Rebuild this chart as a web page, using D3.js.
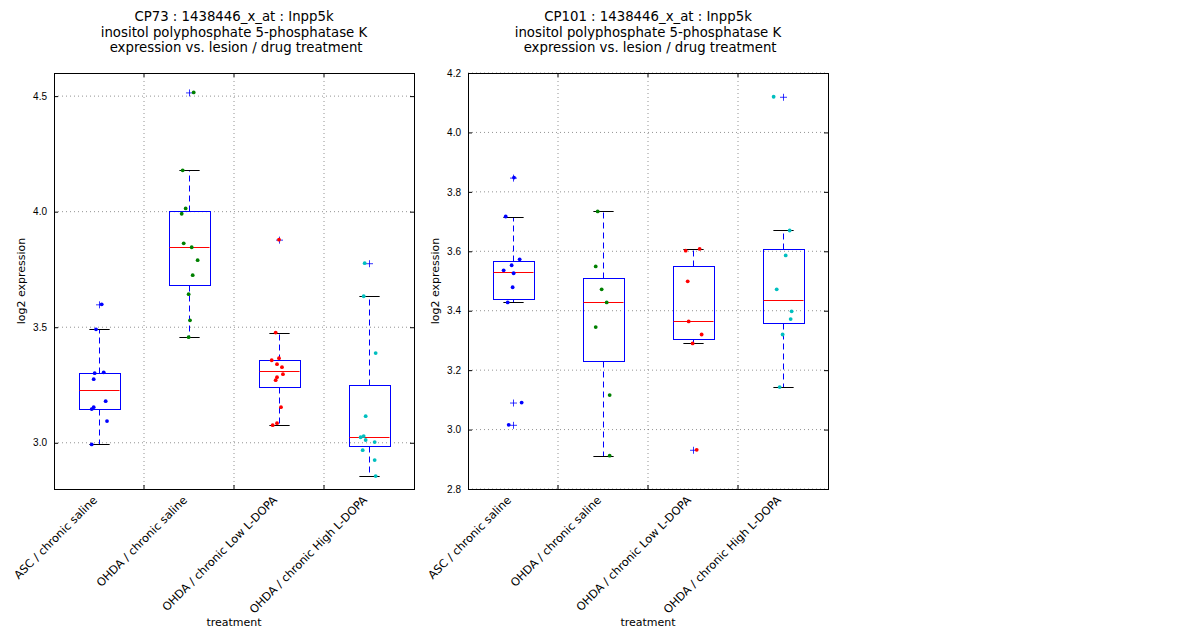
<!DOCTYPE html>
<html lang="en">
<head>
  <meta charset="UTF-8">
  <title>Inpp5k expression vs. lesion / drug treatment</title>
  <script src="https://d3js.org/d3.v7.min.js"></script>
  <style>
    body {
      margin: 0;
      background: #ffffff;
      font-family: 'DejaVu Sans', sans-serif;
    }
    svg {
      display: block;
    }
    .grid line {
      stroke: #777;
      stroke-width: 0.8;
      stroke-dasharray: 1,3;
    }
  </style>
</head>
<body>
  <svg id="chart" width="1200" height="640"></svg>

  <script>
    // treatment groups, shared by both panels
    const categories = [
      "ASC / chronic saline",
      "OHDA / chronic saline",
      "OHDA / chronic Low L-DOPA",
      "OHDA / chronic High L-DOPA"
    ];

    // CP73 log2 expression, one list per group
    const cp73Values = [
      [3.599, 3.491, 3.301, 3.305, 3.275, 3.180, 3.154, 3.146, 3.094, 2.993],
      [4.516, 4.179, 4.014, 3.991, 3.863, 3.846, 3.790, 3.725, 3.643, 3.530, 3.457],
      [3.879, 3.477, 3.366, 3.357, 3.340, 3.327, 3.297, 3.284, 3.271, 3.154, 3.085, 3.076],
      [3.777, 3.634, 3.388, 3.115, 3.024, 3.029, 3.012, 3.003, 2.968, 2.925, 2.856]
    ];
    // horizontal jitter of each point, in category units
    const cp73Jitter = [
      [0.030, -0.033, -0.048, 0.052, -0.059, 0.074, -0.059, -0.081, 0.089, -0.081],
      [0.052, -0.070, -0.037, -0.081, -0.059, 0.030, 0.096, 0.041, -0.004, 0.011, -0.004],
      [0.000, -0.037, 0.000, -0.081, -0.022, 0.033, 0.044, -0.022, -0.037, 0.022, -0.022, -0.070],
      [-0.048, -0.059, 0.074, -0.037, -0.093, -0.059, -0.037, 0.063, -0.070, 0.063, 0.074]
    ];

    // CP101 log2 expression
    const cp101Values = [
      [3.848, 3.717, 3.573, 3.553, 3.536, 3.526, 3.479, 3.428, 3.091, 3.016],
      [3.734, 3.549, 3.472, 3.428, 3.345, 3.116, 2.912],
      [3.602, 3.608, 3.499, 3.364, 3.320, 3.290, 2.932],
      [4.120, 3.670, 3.586, 3.472, 3.398, 3.372, 3.320, 3.143]
    ];
    const cp101Jitter = [
      [0.011, -0.081, 0.074, -0.015, -0.104, 0.007, -0.004, -0.059, 0.096, -0.048],
      [-0.059, -0.081, -0.015, 0.041, -0.081, 0.074, 0.074],
      [-0.081, 0.074, -0.059, -0.048, 0.096, -0.004, 0.041],
      [-0.104, 0.074, 0.030, -0.070, 0.096, 0.085, -0.004, -0.037]
    ];

    const cp73Domain = [2.8, 4.6];
    const cp73Ticks = [3.0, 3.5, 4.0, 4.5];
    const cp101Domain = [2.8, 4.2];
    const cp101Ticks = [2.8, 3.0, 3.2, 3.4, 3.6, 3.8, 4.0, 4.2];

    const cp73Title = ["CP73 : 1438446_x_at : Inpp5k",
                       "inositol polyphosphate 5-phosphatase K",
                       " expression vs. lesion / drug treatment"];
    const cp101Title = ["CP101 : 1438446_x_at : Inpp5k",
                        "inositol polyphosphate 5-phosphatase K",
                        " expression vs. lesion / drug treatment"];

    const groupColors = ["#0000ff", "#008000", "#ff0000", "#00bfbf"];

    const svg = d3.select("#chart");

    function boxStats(values) {
      const v = values.slice().sort(d3.ascending);
      const q1 = d3.quantile(v, 0.25);
      const med = d3.quantile(v, 0.5);
      const q3 = d3.quantile(v, 0.75);
      const iqr = q3 - q1;
      const lo = d3.min(v.filter(d => d >= q1 - 1.5 * iqr));
      const hi = d3.max(v.filter(d => d <= q3 + 1.5 * iqr));
      const fliers = v.filter(d => d < lo || d > hi);
      return { q1, med, q3, lo, hi, fliers };
    }

    function drawPanel(left, title, values, jitter, domain, ticks) {
      const top = 73, bottom = 489, width = 360;
      const x = d3.scaleBand().domain(categories).range([left, left + width]);
      const y = d3.scaleLinear().domain(domain).range([bottom, top]);
      const bw = x.bandwidth();
      const unit = bw; // one category = one data unit

      const g = svg.append("g");

      // title
      g.append("text")
        .attr("text-anchor", "middle")
        .style("font-size", "13.3px")
        .selectAll("tspan")
        .data(title)
        .join("tspan")
        .attr("x", left + width / 2)
        .attr("y", (d, i) => 21 + i * 15.5)
        .attr("xml:space", "preserve")
        .text(d => d);

      // grid
      const grid = g.append("g").attr("class", "grid");
      grid.selectAll("line.h")
        .data(ticks)
        .join("line")
        .attr("class", "h")
        .attr("x1", left).attr("x2", left + width)
        .attr("y1", d => y(d)).attr("y2", d => y(d));
      grid.selectAll("line.v")
        .data(categories.slice(1))
        .join("line")
        .attr("class", "v")
        .attr("x1", d => x(d)).attr("x2", d => x(d))
        .attr("y1", top).attr("y2", bottom);

      // y axis, ticks inward on both sides
      const yAxis = g.append("g")
        .attr("transform", `translate(${left},0)`)
        .call(d3.axisLeft(y).tickValues(ticks).tickFormat(d3.format(".1f")).tickSizeInner(-4).tickSizeOuter(0).tickPadding(7));
      yAxis.select(".domain").remove();
      yAxis.selectAll("text").style("font-size", "10px").attr("fill", "#000");

      const yAxisR = g.append("g")
        .attr("transform", `translate(${left + width},0)`)
        .call(d3.axisRight(y).tickValues(ticks).tickSizeInner(-4).tickSizeOuter(0));
      yAxisR.select(".domain").remove();
      yAxisR.selectAll("text").remove();

      // x ticks at group boundaries, top and bottom
      const bounds = categories.slice(1).map(c => x(c));
      g.append("g").selectAll("line")
        .data(bounds)
        .join("line")
        .attr("x1", d => d).attr("x2", d => d)
        .attr("y1", bottom).attr("y2", bottom - 4)
        .attr("stroke", "#000");
      g.append("g").selectAll("line")
        .data(bounds)
        .join("line")
        .attr("x1", d => d).attr("x2", d => d)
        .attr("y1", top).attr("y2", top + 4)
        .attr("stroke", "#000");

      // category labels, rotated
      g.append("g").selectAll("text")
        .data(categories)
        .join("text")
        .attr("text-anchor", "end")
        .attr("dy", "0.35em")
        .attr("transform", d => `translate(${x(d) + bw / 2 - 4},${bottom + 9}) rotate(-45)`)
        .style("font-size", "11.3px")
        .text(d => d);

      // axis labels
      g.append("text")
        .attr("text-anchor", "middle")
        .attr("x", left + width / 2)
        .attr("y", 626)
        .style("font-size", "11px")
        .text("treatment");
      g.append("text")
        .attr("text-anchor", "middle")
        .attr("transform", `translate(${left - 29},${(top + bottom) / 2}) rotate(-90)`)
        .style("font-size", "11px")
        .text("log2 expression");

      // boxes
      const stats = values.map(boxStats);
      const boxes = g.append("g").selectAll("g")
        .data(stats)
        .join("g")
        .attr("transform", (d, i) => `translate(${x(categories[i]) + bw / 2 + 0.5},0.5)`);

      boxes.append("line")
        .attr("y1", d => Math.round(y(d.q3))).attr("y2", d => Math.round(y(d.hi)))
        .attr("stroke", "#0000ff").attr("stroke-dasharray", "6,4");
      boxes.append("line")
        .attr("y1", d => Math.round(y(d.q1))).attr("y2", d => Math.round(y(d.lo)))
        .attr("stroke", "#0000ff").attr("stroke-dasharray", "6,4");
      boxes.append("rect")
        .attr("x", -Math.round(0.225 * unit))
        .attr("width", Math.round(0.45 * unit))
        .attr("y", d => Math.round(y(d.q3)))
        .attr("height", d => Math.round(y(d.q1)) - Math.round(y(d.q3)))
        .attr("fill", "none")
        .attr("stroke", "#0000ff");
      boxes.append("line")
        .attr("x1", -Math.round(0.225 * unit)).attr("x2", Math.round(0.225 * unit))
        .attr("y1", d => Math.round(y(d.med))).attr("y2", d => Math.round(y(d.med)))
        .attr("stroke", "#ff0000");
      boxes.selectAll("line.cap")
        .data(d => [d.lo, d.hi])
        .join("line")
        .attr("class", "cap")
        .attr("x1", -0.1125 * unit).attr("x2", 0.1125 * unit)
        .attr("y1", d => Math.round(y(d))).attr("y2", d => Math.round(y(d)))
        .attr("stroke", "#000");
      // fliers as '+'
      boxes.selectAll("path.flier")
        .data(d => d.fliers)
        .join("path")
        .attr("class", "flier")
        .attr("d", d => `M-3.5,${y(d)}h7M0,${y(d) - 3.5}v7`)
        .attr("stroke", "#0000ff")
        .attr("stroke-width", 0.8)
        .attr("fill", "none");

      // jittered points
      values.forEach((vals, i) => {
        const cx = x(categories[i]) + bw / 2;
        g.append("g").selectAll("circle")
          .data(vals.map((v, j) => ({ v, dx: jitter[i][j] })))
          .join("circle")
          .attr("cx", d => cx + d.dx * unit)
          .attr("cy", d => y(d.v))
          .attr("r", 1.9)
          .attr("fill", groupColors[i]);
      });

      // frame
      g.append("rect")
        .attr("x", left + 0.5).attr("y", top + 0.5)
        .attr("width", width).attr("height", bottom - top)
        .attr("fill", "none")
        .attr("stroke", "#000")
        .attr("stroke-width", 1);
    }

    drawPanel(54, cp73Title, cp73Values, cp73Jitter, cp73Domain, cp73Ticks);
    drawPanel(468, cp101Title, cp101Values, cp101Jitter, cp101Domain, cp101Ticks);
  </script>
</body>
</html>
